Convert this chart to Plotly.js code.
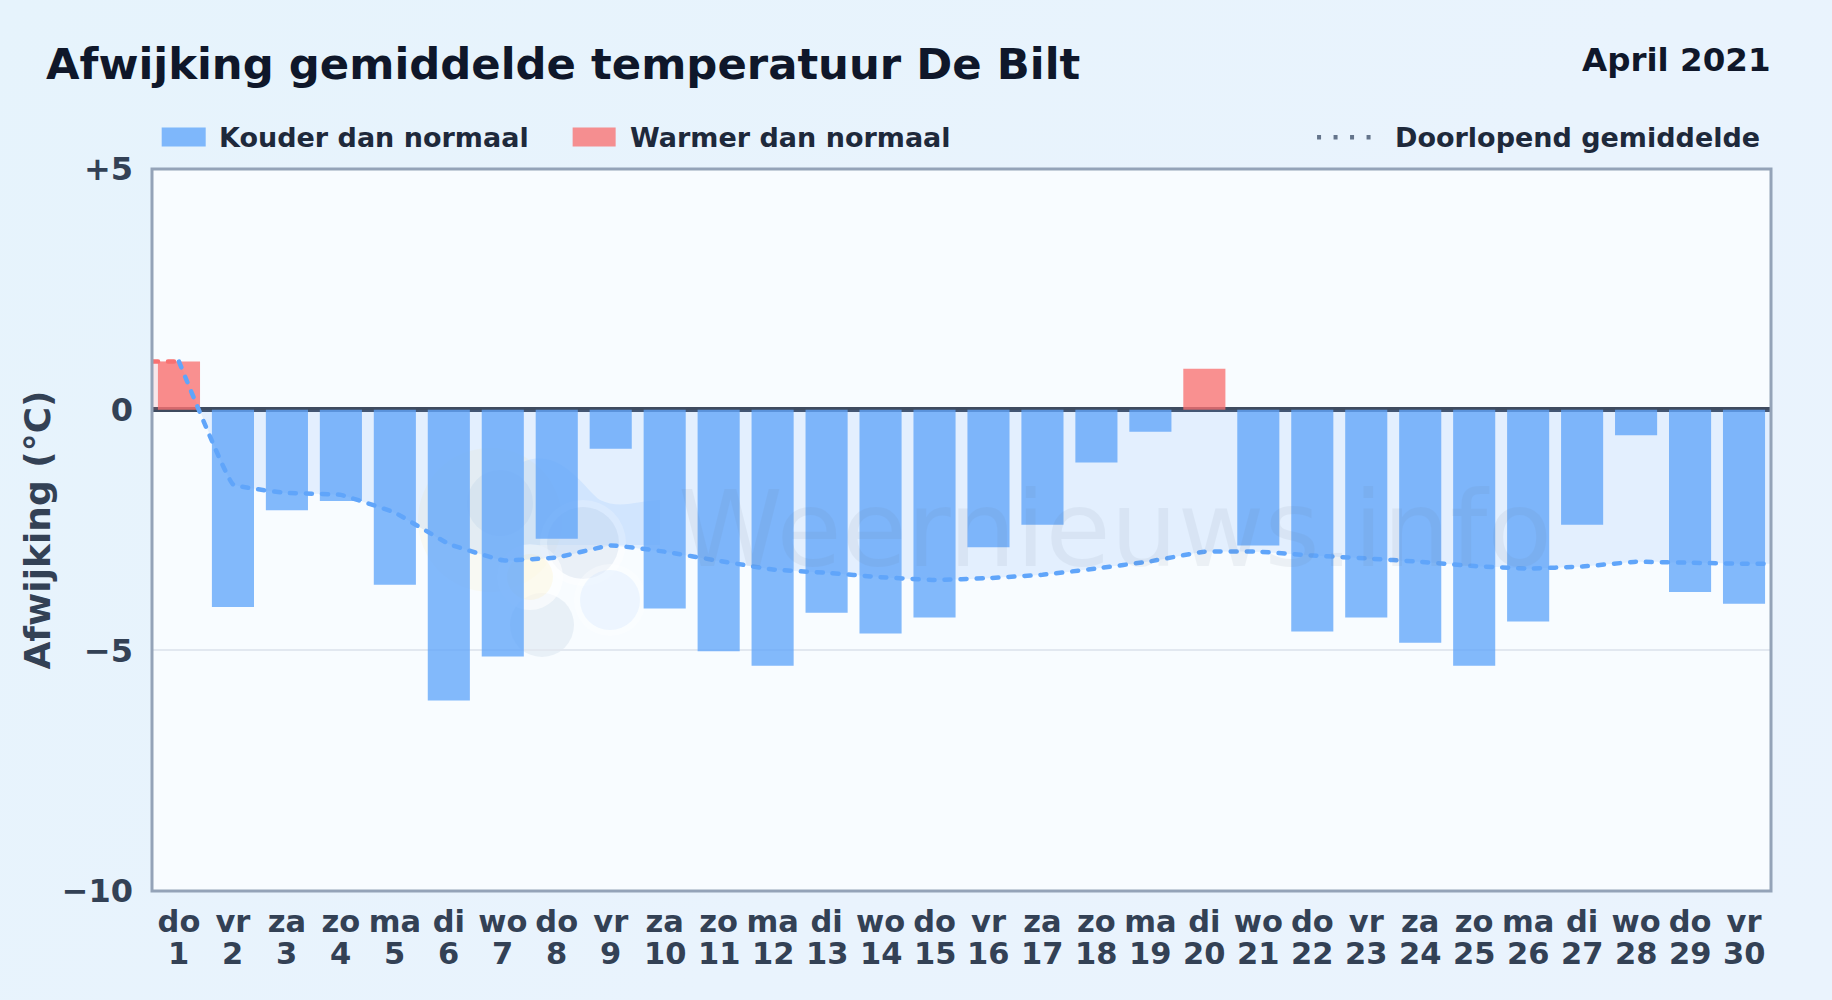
<!DOCTYPE html>
<html>
<head>
<meta charset="utf-8">
<script src="https://cdn.plot.ly/plotly-3.0.1.min.js"></script>
<style>
html,body{margin:0;padding:0;width:1832px;height:1000px;overflow:hidden;background:linear-gradient(135deg,#e6f3fc 0%,#e9f3fd 60%,#eaf3fd 100%);}
#chart{width:1832px;height:1000px;}
#chart .js-line{stroke-linecap:round;}
</style>
</head>
<body>
<div id="chart"></div>
<script>
const weekdays = ['do','vr','za','zo','ma','di','wo','do','vr','za','zo','ma','di','wo','do','vr','za','zo','ma','di','wo','do','vr','za','zo','ma','di','wo','do','vr'];
const days = [1,2,3,4,5,6,7,8,9,10,11,12,13,14,15,16,17,18,19,20,21,22,23,24,25,26,27,28,29,30];
const anomaly = [1.0,-4.1,-2.09,-1.9,-3.64,-6.04,-5.13,-2.68,-0.81,-4.13,-5.02,-5.32,-4.22,-4.65,-4.32,-2.86,-2.39,-1.1,-0.46,0.85,-2.82,-4.61,-4.32,-4.84,-5.32,-4.4,-2.39,-0.53,-3.79,-4.03];
const runningMean = [1.0,-1.55,-1.73,-1.77,-2.14,-2.79,-3.13,-3.07,-2.82,-2.95,-3.14,-3.32,-3.39,-3.48,-3.54,-3.5,-3.43,-3.3,-3.15,-2.95,-2.95,-3.03,-3.09,-3.16,-3.25,-3.3,-3.26,-3.16,-3.18,-3.2];
const meanEdgeEnd = -3.2;
const warmPartX = [-0.5,0,0.38];
const warmPartY = [1.0,1.0,0];
const coldStartX = 0.38;
const yTickVals = [5,0,-5,-10];
const yTickText = ['+5','0','\u22125','\u221210'];

const FONT = '"DejaVu Sans", sans-serif';
const idx = days.map((d,i)=>i);
const BLUE='#60a5fa', RED='#f87171';
const BLUE_BAR='rgba(96,165,250,0.78)', RED_BAR='rgba(248,113,113,0.78)';
const L=151.8, W=1619.2, T=168.5, H=722.5;
const px=v=>(v-L)/W, py=v=>1+(T-v)/H;

const coldFillX = [coldStartX].concat(idx.slice(1), [29.5]);
const coldFillY = [0].concat(runningMean.slice(1), [meanEdgeEnd]);
const lineX = idx.concat([29.5]);
const lineY = runningMean.concat([meanEdgeEnd]);
const dash = '6px,10px';

const traces = [
  {type:'bar',name:'Kouder dan normaal',x:idx,y:anomaly.map(v=>v<0?v:null),width:0.78,marker:{color:BLUE_BAR,line:{width:0}},hoverinfo:'skip'},
  {type:'bar',name:'Warmer dan normaal',x:idx,y:anomaly.map(v=>v>=0?v:null),width:0.78,marker:{color:RED_BAR,line:{width:0}},hoverinfo:'skip'},
  {type:'scatter',mode:'lines',x:warmPartX,y:warmPartY,fill:'tozeroy',fillcolor:'rgba(248,113,113,0.15)',line:{width:0},hoverinfo:'skip'},
  {type:'scatter',mode:'lines',x:coldFillX,y:coldFillY,fill:'tozeroy',fillcolor:'rgba(96,165,250,0.14)',line:{width:0,shape:'spline',smoothing:0.25},hoverinfo:'skip'},
  {type:'scatter',mode:'lines',x:[-0.5,0],y:[1.0,1.0],line:{color:RED,width:4.5,dash:dash},hoverinfo:'skip'},
  {type:'scatter',mode:'lines',name:'Doorlopend gemiddelde',x:lineX,y:lineY,line:{color:BLUE,width:4.5,dash:dash,shape:'spline',smoothing:0.25},hoverinfo:'skip'}
];

const logoSvg = `<svg xmlns="http://www.w3.org/2000/svg" width="1619" height="722" viewBox="152 169 1619 722">
<circle cx="490" cy="520" r="72" fill="#fde68a" opacity="0.10"/>
<circle cx="500" cy="503" r="33" fill="#7f9cc0" opacity="0.10"/>
<path d="M523 462 C560 445 585 490 600 500 C620 510 640 500 660 500 L660 545 L523 545 Z" fill="#93c5fd" opacity="0.20"/>
<circle cx="542" cy="625" r="32" fill="#7f9cc0" opacity="0.12"/>
<circle cx="583" cy="543" r="43" fill="#ffffff" opacity="0.4"/>
<circle cx="583" cy="543" r="36" fill="#7f9cc0" opacity="0.13"/>
<circle cx="530" cy="577" r="33" fill="#ffffff" opacity="0.6"/>
<circle cx="530" cy="577" r="23" fill="#fde68a" opacity="0.14"/>
<circle cx="610" cy="600" r="36" fill="#ffffff" opacity="0.35"/>
<circle cx="610" cy="600" r="30" fill="#bfdbfe" opacity="0.22"/>
</svg>`;

const shapes = [
  {type:'rect',xref:'paper',yref:'paper',x0:0,x1:1,y0:0,y1:1,line:{color:'#94a3b8',width:3},fillcolor:'rgba(0,0,0,0)',layer:'above'},
  {type:'rect',xref:'paper',yref:'paper',x0:px(161.5),x1:px(205.5),y0:py(146),y1:py(127),fillcolor:BLUE_BAR,line:{width:0}},
  {type:'rect',xref:'paper',yref:'paper',x0:px(572.5),x1:px(615.5),y0:py(146),y1:py(127),fillcolor:RED_BAR,line:{width:0}},
  {type:'line',xref:'paper',yref:'paper',x0:px(1317),x1:px(1375),y0:py(136.7),y1:py(136.7),line:{color:'#64748b',width:4.5,dash:'4px,12.5px'}}
];

const annotations = [
  {xref:'paper',yref:'paper',x:px(1773),y:py(59),xanchor:'right',yanchor:'middle',showarrow:false,text:'<b>April 2021</b>',font:{family:FONT,size:32.5,color:'#0f172a'}},
  {xref:'paper',yref:'paper',x:px(216.7),y:py(137),xanchor:'left',yanchor:'middle',showarrow:false,text:'<b>Kouder dan normaal</b>',font:{family:FONT,size:27,color:'#1e293b'}},
  {xref:'paper',yref:'paper',x:px(627.7),y:py(137),xanchor:'left',yanchor:'middle',showarrow:false,text:'<b>Warmer dan normaal</b>',font:{family:FONT,size:27,color:'#1e293b'}},
  {xref:'paper',yref:'paper',x:px(1762.3),y:py(137),xanchor:'right',yanchor:'middle',showarrow:false,text:'<b>Doorlopend gemiddelde</b>',font:{family:FONT,size:27,color:'#1e293b'}},
  {xref:'paper',yref:'paper',x:px(1115),y:py(529),xanchor:'center',yanchor:'middle',showarrow:false,text:'Weernieuws.info',opacity:0.08,font:{family:FONT,size:106,color:'#64748b'}}
];
days.forEach((d,i)=>annotations.push({xref:'x',yref:'paper',x:i,y:py(954),xanchor:'center',yanchor:'middle',showarrow:false,text:'<b>'+d+'</b>',font:{family:FONT,size:30.5,color:'#334155'}}));

const layout = {
  width:1832,height:1000,
  paper_bgcolor:'rgba(0,0,0,0)',plot_bgcolor:'#f8fcff',
  margin:{l:L,r:1832-L-W,t:T,b:1000-T-H,pad:0},
  showlegend:false,barmode:'overlay',
  title:{text:'<b>Afwijking gemiddelde temperatuur De Bilt</b>',font:{family:FONT,size:43.35,color:'#0f172a'},xref:'container',yref:'container',x:46/1832,xanchor:'left',y:1-64/1000,yanchor:'middle'},
  xaxis:{range:[-0.5,29.5],tickmode:'array',tickvals:idx,ticktext:weekdays.map(w=>'<b>'+w+'</b>'),tickfont:{family:FONT,size:30.5,color:'#334155'},showgrid:false,zeroline:false,showline:false,ticks:'',ticklabelstandoff:9,tickangle:0,fixedrange:true},
  yaxis:{range:[-10,5],tickmode:'array',tickvals:yTickVals,ticktext:yTickText.map(t=>'<b>'+t+'</b>'),tickfont:{family:FONT,size:32,color:'#334155'},showgrid:true,gridcolor:'#e2e8f0',gridwidth:1.5,zeroline:true,zerolinecolor:'#3f4b5f',zerolinewidth:4.5,showline:false,ticks:'',ticklabelstandoff:18,fixedrange:true,
    title:{text:'<b>Afwijking (\u00b0C)</b>',font:{family:FONT,size:36,color:'#334155'},standoff:0}},
  images:[{source:'data:image/svg+xml;utf8,'+encodeURIComponent(logoSvg),xref:'paper',yref:'paper',x:0,y:1,sizex:1,sizey:1,sizing:'stretch',layer:'below',xanchor:'left',yanchor:'top'}],
  shapes:shapes,annotations:annotations
};
Plotly.newPlot('chart',traces,layout,{displayModeBar:false,responsive:false});
</script>
</body>
</html>
